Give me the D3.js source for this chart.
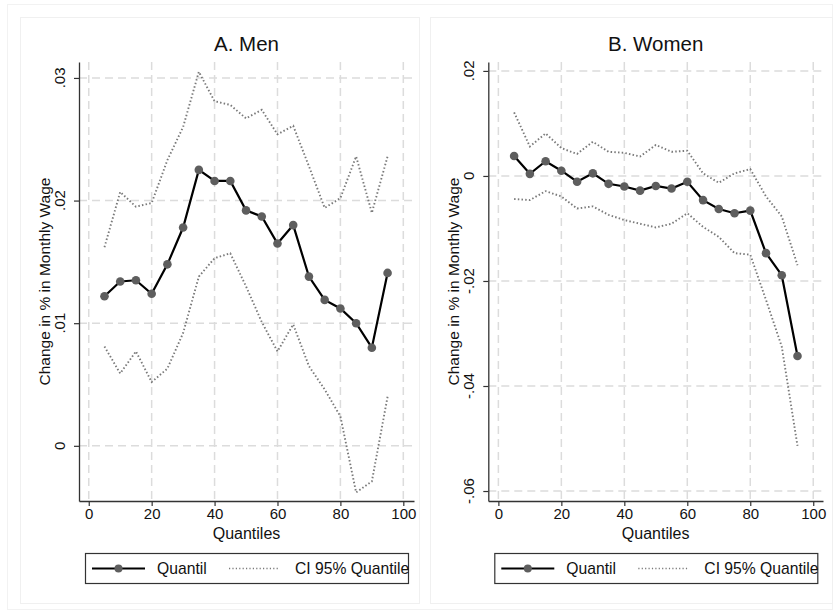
<!DOCTYPE html>
<html>
<head>
<meta charset="utf-8">
<script src="https://cdn.jsdelivr.net/npm/d3@7"></script>
<style>
  body { margin: 0; background: #fff; }
  svg { display: block; font-family: "Liberation Sans", Arial, sans-serif; }
</style>
</head>
<body>
<svg id="chart" width="839" height="614"></svg>
<script>
// Quantile regression estimates
const quantiles = [5, 10, 15, 20, 25, 30, 35, 40, 45, 50, 55, 60, 65, 70, 75, 80, 85, 90, 95];

const menQ  = [0.0122, 0.0134, 0.0135, 0.0124, 0.0148, 0.0178, 0.0225, 0.0216, 0.0216, 0.0192, 0.0187, 0.0165, 0.0180, 0.0138, 0.0119, 0.0112, 0.0100, 0.0080, 0.0141];
const menHi = [0.0162, 0.0207, 0.0195, 0.0198, 0.0233, 0.0260, 0.0305, 0.0281, 0.0278, 0.0267, 0.0274, 0.0254, 0.0261, 0.0228, 0.0194, 0.0202, 0.0236, 0.0190, 0.0236];
const menLo = [0.0081, 0.0059, 0.0077, 0.0052, 0.0063, 0.0092, 0.0138, 0.0153, 0.0157, 0.0130, 0.0101, 0.0077, 0.0099, 0.0065, 0.0046, 0.0024, -0.0038, -0.0029, 0.0040];

const womenQ  = [0.0038, 0.0004, 0.0028, 0.0010, -0.0011, 0.0005, -0.0015, -0.0020, -0.0028, -0.0019, -0.0024, -0.0011, -0.0046, -0.0063, -0.0071, -0.0066, -0.0147, -0.0189, -0.0343];
const womenHi = [0.0121, 0.0056, 0.0081, 0.0053, 0.0042, 0.0065, 0.0046, 0.0044, 0.0037, 0.0059, 0.0046, 0.0048, 0.0005, -0.0013, 0.0005, 0.0013, -0.0039, -0.0077, -0.0170];
const womenLo = [-0.0044, -0.0046, -0.0029, -0.0039, -0.0062, -0.0058, -0.0074, -0.0084, -0.0091, -0.0098, -0.0091, -0.0071, -0.0097, -0.0116, -0.0147, -0.0150, -0.0236, -0.0325, -0.0514];

const xTicks = [0, 20, 40, 60, 80, 100];
const menYTicks = [0, 0.01, 0.02, 0.03];
const womenYTicks = [-0.06, -0.04, -0.02, 0, 0.02];

const legendLabels = ["Quantil", "CI 95% Quantile"];
const yTitle = "Change in % in Monthly Wage";
const xTitle = "Quantiles";

const svg = d3.select("#chart");

// faint outer frame like the exported graph
svg.append("rect")
  .attr("x", 7.5).attr("y", 4.5).attr("width", 825).attr("height", 605)
  .attr("fill", "none").attr("stroke", "#f2f2f2");

// strip the leading zero, Stata style (.03, -.02)
const fmt = (v) => v === 0 ? "0" : String(+v.toFixed(2)).replace("0.", ".");

function drawPanel({ title, left, frameW, plot, xDomain, yDomain, yTicks, q, lo, hi }) {
  const g = svg.append("g");

  g.append("rect")
    .attr("x", left + 0.5).attr("y", 17.5).attr("width", frameW).attr("height", 586)
    .attr("fill", "#fff").attr("stroke", "#f0f0f0");

  const x = d3.scaleLinear().domain(xDomain).range([plot.x0, plot.x1]);
  const y = d3.scaleLinear().domain(yDomain).range([plot.y1, plot.y0]);

  // dashed grid
  g.append("g").selectAll("line.hg")
    .data(yTicks).join("line")
    .attr("x1", plot.x0).attr("x2", plot.x1)
    .attr("y1", (d) => y(d)).attr("y2", (d) => y(d))
    .attr("stroke", "#dcdcdc").attr("stroke-width", 1.5)
    .attr("stroke-dasharray", "8,5");

  g.append("g").selectAll("line.vg")
    .data(xTicks).join("line")
    .attr("x1", (d) => x(d)).attr("x2", (d) => x(d))
    .attr("y1", plot.y0).attr("y2", plot.y1)
    .attr("stroke", "#dcdcdc").attr("stroke-width", 1.5)
    .attr("stroke-dasharray", "8,5");

  // axes
  const xAxis = g.append("g")
    .attr("transform", `translate(0,${plot.y1})`)
    .call(d3.axisBottom(x).tickValues(xTicks).tickSize(5).tickSizeOuter(0).tickPadding(2));
  xAxis.selectAll("text").attr("font-size", 15).attr("fill", "#111").attr("font-family", null);

  const yAxis = g.append("g")
    .attr("transform", `translate(${plot.x0},0)`)
    .call(d3.axisLeft(y).tickValues(yTicks).tickSize(5).tickSizeOuter(0).tickFormat(""));

  [xAxis, yAxis].forEach((a) => {
    a.select(".domain").attr("stroke", "#333").attr("stroke-width", 1.3);
    a.selectAll(".tick line").attr("stroke", "#333").attr("stroke-width", 1.2);
  });

  // rotated y tick labels
  g.append("g").selectAll("text")
    .data(yTicks).join("text")
    .attr("transform", (d) => `translate(${plot.x0 - 14},${y(d)}) rotate(-90)`)
    .attr("text-anchor", "middle")
    .attr("font-size", 15).attr("fill", "#111")
    .text(fmt);

  g.append("text")
    .attr("transform", `translate(${plot.x0 - 29},${(plot.y0 + plot.y1) / 2}) rotate(-90)`)
    .attr("text-anchor", "middle")
    .attr("font-size", 15.5).attr("fill", "#111")
    .text(yTitle);

  g.append("text")
    .attr("x", (plot.x0 + plot.x1) / 2).attr("y", 538.5)
    .attr("text-anchor", "middle")
    .attr("font-size", 16).attr("fill", "#111")
    .text(xTitle);

  g.append("text")
    .attr("x", (plot.x0 + plot.x1) / 2).attr("y", 51)
    .attr("text-anchor", "middle")
    .attr("font-size", 20.5).attr("fill", "#111")
    .text(title);

  // series
  const line = (vals) => d3.line()
    .x((d, i) => x(quantiles[i]))
    .y((d) => y(d))(vals);

  [hi, lo].forEach((vals) => {
    g.append("path")
      .attr("d", line(vals))
      .attr("fill", "none")
      .attr("stroke", "#7a7a7a")
      .attr("stroke-width", 1.9)
      .attr("stroke-dasharray", "1.5,2.2");
  });

  g.append("path")
    .attr("d", line(q))
    .attr("fill", "none")
    .attr("stroke", "#000")
    .attr("stroke-width", 2.2);

  g.append("g").selectAll("circle")
    .data(q).join("circle")
    .attr("cx", (d, i) => x(quantiles[i]))
    .attr("cy", (d) => y(d))
    .attr("r", 4.3)
    .attr("fill", "#5e5e5e");

  // legend
  const lx = plot.x0 + 6;
  const lg = g.append("g").attr("transform", `translate(${lx},553)`);
  lg.append("rect")
    .attr("x", 0.5).attr("y", 0.5).attr("width", 323).attr("height", 30)
    .attr("fill", "#fff").attr("stroke", "#333").attr("stroke-width", 1.2);
  lg.append("line")
    .attr("x1", 7).attr("x2", 60).attr("y1", 15.5).attr("y2", 15.5)
    .attr("stroke", "#000").attr("stroke-width", 2.2);
  lg.append("circle")
    .attr("cx", 33.5).attr("cy", 15.5).attr("r", 4)
    .attr("fill", "#5e5e5e");
  lg.append("text")
    .attr("x", 72).attr("y", 20.8)
    .attr("font-size", 15.7).attr("fill", "#111")
    .text(legendLabels[0]);
  lg.append("line")
    .attr("x1", 144).attr("x2", 194).attr("y1", 15.5).attr("y2", 15.5)
    .attr("stroke", "#7a7a7a").attr("stroke-width", 1.5)
    .attr("stroke-dasharray", "1.2,2.2");
  lg.append("text")
    .attr("x", 210).attr("y", 20.8)
    .attr("font-size", 15.7).attr("fill", "#111")
    .text(legendLabels[1]);
}

drawPanel({
  title: "A. Men",
  left: 20, frameW: 399,
  plot: { x0: 79, x1: 414, y0: 62, y1: 501 },
  xDomain: [-3.1, 103.4],
  yDomain: [-0.0045, 0.0313],
  yTicks: menYTicks,
  q: menQ, lo: menLo, hi: menHi
});

drawPanel({
  title: "B. Women",
  left: 430, frameW: 402,
  plot: { x0: 488.3, x1: 823, y0: 62, y1: 501 },
  xDomain: [-3.2, 103.1],
  yDomain: [-0.0619, 0.0217],
  yTicks: womenYTicks,
  q: womenQ, lo: womenLo, hi: womenHi
});
</script>
</body>
</html>
